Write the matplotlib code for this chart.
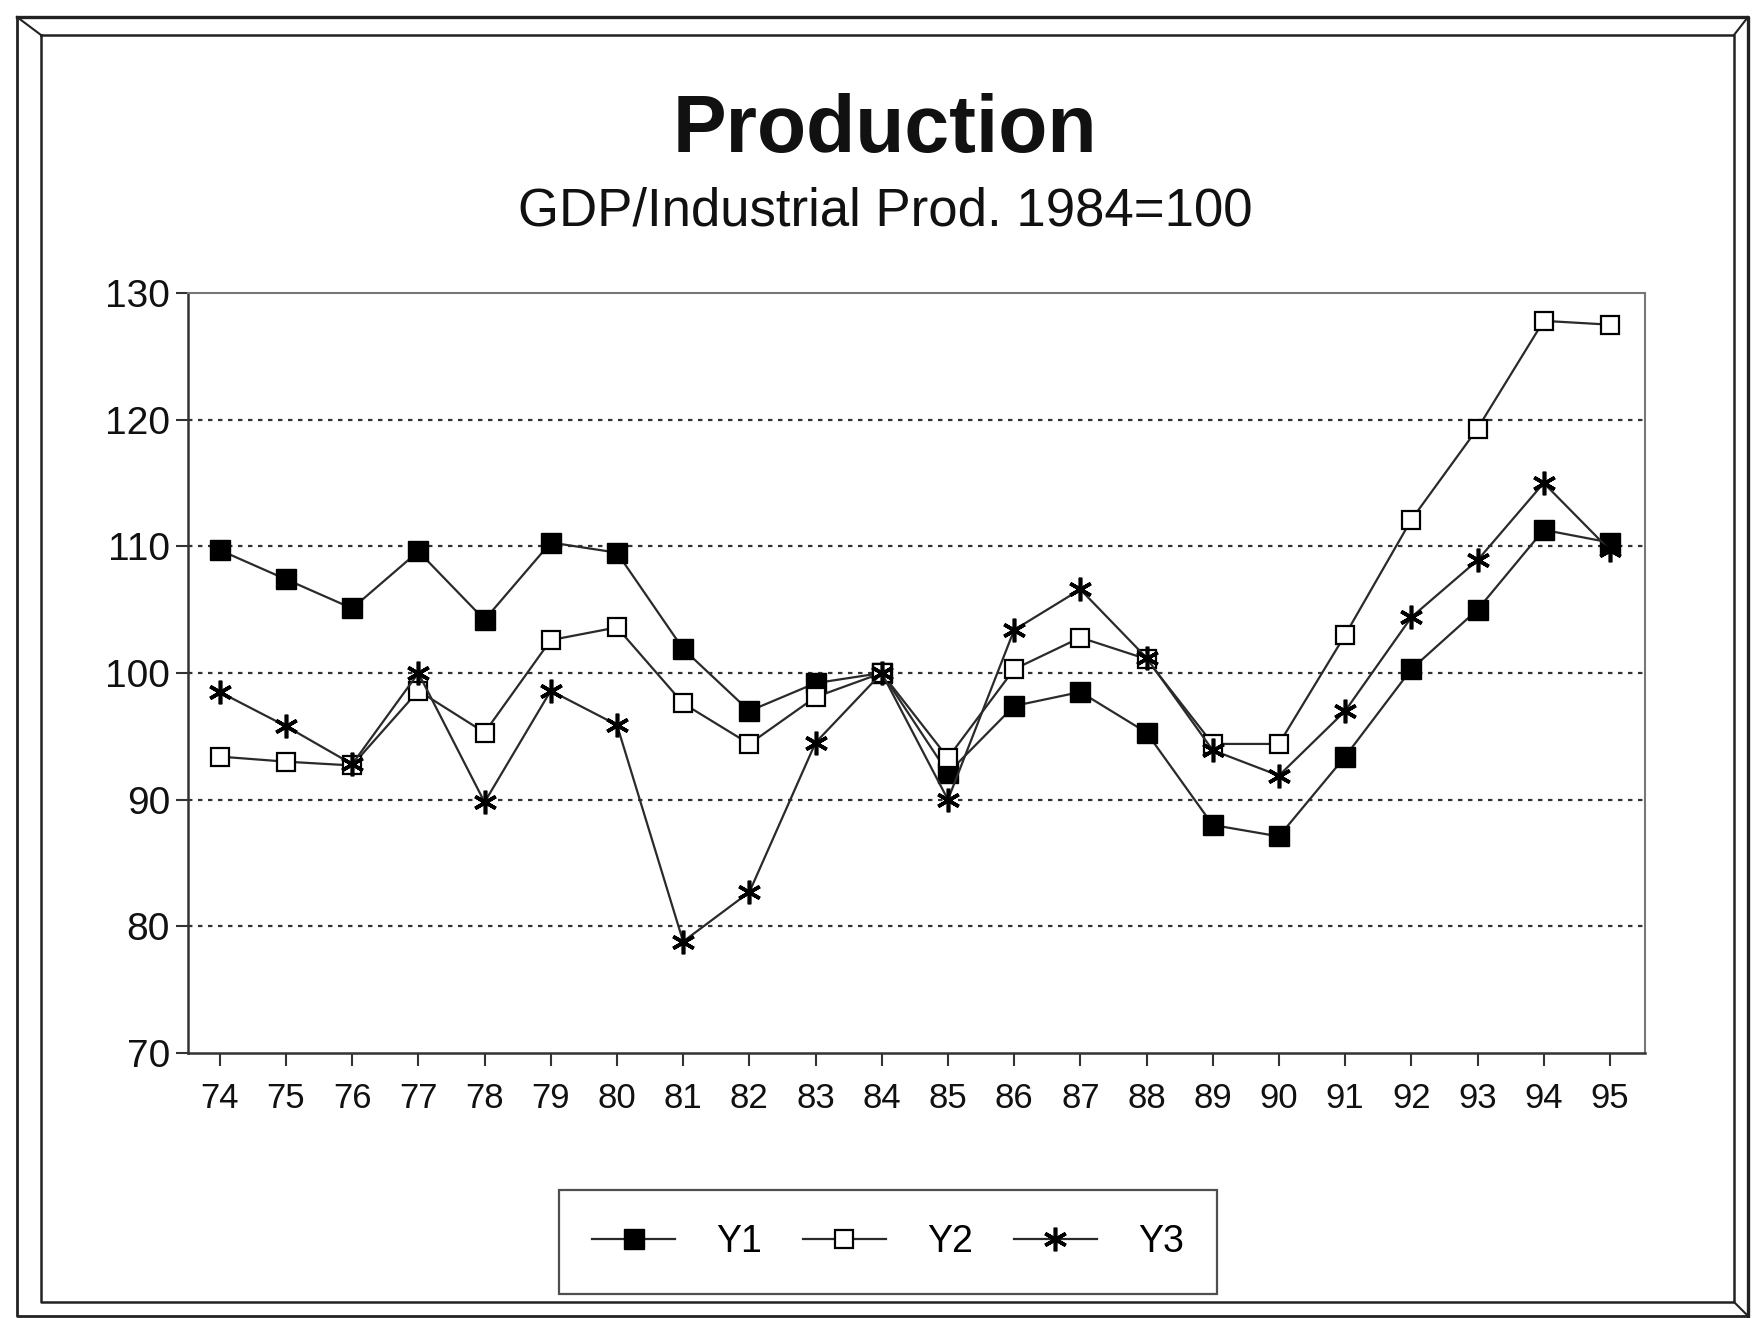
import matplotlib
matplotlib.use("Agg")
import matplotlib.pyplot as plt
from matplotlib.lines import Line2D

years = list(range(74, 96))
year_labels = [str(y) for y in years]
y1 = [109.7, 107.4, 105.1, 109.6, 104.2, 110.3, 109.5, 101.9, 97.0, 99.2, 100.0,
      92.1, 97.4, 98.5, 95.3, 88.0, 87.1, 93.4, 100.3, 105.0, 111.3, 110.3]
y2 = [93.4, 93.0, 92.7, 98.6, 95.3, 102.6, 103.6, 97.6, 94.4, 98.1, 100.0,
      93.3, 100.3, 102.8, 101.1, 94.4, 94.4, 103.0, 112.1, 119.3, 127.8, 127.5]
y3 = [98.5, 95.8, 92.8, 100.0, 89.8, 98.6, 95.9, 78.8, 82.7, 94.5, 100.0,
      90.0, 103.4, 106.6, 101.2, 93.9, 91.9, 97.0, 104.4, 108.9, 115.0, 109.7]
yticks = [70, 80, 90, 100, 110, 120, 130]
series_names = ["Y1", "Y2", "Y3"]

plt.rcParams['font.family'] = ['Liberation Sans', 'DejaVu Sans']

W, H = 1753, 1318
fig = plt.figure(figsize=(W / 100, H / 100), dpi=100)
ax = fig.add_axes([188 / W, 1 - 1053 / H, (1645 - 188) / W, (1053 - 293) / H])

lc = '#2a2a2a'
ax.plot(years, y1, color=lc, lw=1.6, marker='s', ms=15, mfc='black', mec='black',
        label=series_names[0], zorder=3)
ax.plot(years, y2, color=lc, lw=1.6, marker='s', ms=13, mfc='white', mec='black',
        mew=1.6, label=series_names[1], zorder=3)
ax.plot(years, y3, color=lc, lw=1.6, marker=(6, 2, 0), ms=17, mfc='black', mec='black',
        mew=2.6, label=series_names[2], zorder=3)

ax.set_xlim(73.52, 95.53)
ax.set_ylim(70, 130)
ax.set_xticks(years)
ax.set_xticklabels(year_labels)
ax.set_yticks(yticks)
ax.set_yticklabels([str(v) for v in yticks])
ax.tick_params(axis='both', direction='out', length=9, width=1.5,
               color='#333333', labelcolor='#111111')
ax.tick_params(axis='x', pad=12, labelsize=25)
ax.tick_params(axis='y', pad=4, labelsize=28)
for v in yticks[1:-1]:
    ax.axhline(v, color='#333333', lw=1.6, ls=(0, (2, 2.5)), zorder=1)
for s in ['left', 'bottom']:
    ax.spines[s].set_color('#333333')
    ax.spines[s].set_linewidth(1.8)
for s in ['top', 'right']:
    ax.spines[s].set_color('#777777')
    ax.spines[s].set_linewidth(1.5)

fig.text(0.505, 1 - 131 / H, "Production", ha='center', va='center',
         fontsize=58, fontweight='bold', color='#111111')
fig.text(0.505, 1 - 212 / H, "GDP/Industrial Prod. 1984=100", ha='center', va='center',
         fontsize=38, color='#111111')

leg = fig.legend(loc='center', bbox_to_anchor=(888 / W, 1 - 1242 / H), ncol=3,
                 fontsize=27, frameon=True, fancybox=False, edgecolor='#222222',
                 handlelength=2.2, columnspacing=1.1, borderpad=0.9, handletextpad=1.1,
                 borderaxespad=0)
leg.get_frame().set_linewidth(1.6)


def fl(xs, ys, lw=2.0, c='#222222'):
    fig.add_artist(Line2D([x / W for x in xs], [1 - y / H for y in ys],
                          transform=fig.transFigure, color=c, lw=lw))

# outer frame
fl([17, 1748, 1748], [17, 17, 1316], lw=2.4)
fl([17, 17, 1748], [17, 1316, 1316], lw=2.0)
# inner frame
fl([41, 1734, 1734, 41, 41], [35, 35, 1302, 1302, 35], lw=1.8)
# bevel corners
fl([17, 41], [17, 35], lw=1.5)
fl([1748, 1734], [17, 35], lw=1.5)
fl([1748, 1734], [1316, 1302], lw=1.5)

fig.savefig("out.png", dpi=100, facecolor='white')
